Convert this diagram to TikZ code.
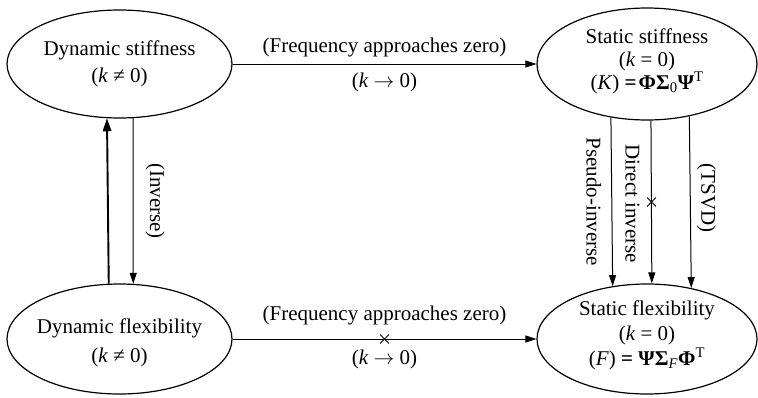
\documentclass[tikz,border=0pt]{standalone}
\usepackage{fontspec}
\setmainfont{Liberation Serif}
\usetikzlibrary{shapes.geometric,shapes.misc,arrows.meta}

\begin{document}
\begin{tikzpicture}[x=1pt,y=-1pt,
  state/.style={draw, ellipse, line width=1.2pt, inner sep=0pt},
  body/.style={align=center, font=\fontsize{21}{#1}\selectfont},
  tag/.style={font=\fontsize{21}{25}\selectfont, inner sep=0pt},
  link/.style={line width=1pt, -{Triangle[length=11pt,width=7pt]}},
  boldlink/.style={line width=1.9pt, -{Triangle[length=13pt,width=8.5pt]}},
  xmark/.style={cross out, draw, line width=0.9pt, minimum size=8pt, inner sep=0pt},
]
\useasboundingbox (0,0) rectangle (758,397);

% the four states
\node[state, minimum width=225pt, minimum height=108pt,
  label={[body=27]center:{Dynamic stiffness\\(\textit{k} ≠ 0)}}] (ds) at (119.5,64) {};
\node[state, minimum width=225pt, minimum height=110pt,
  label={[body=29, yshift=-3.5pt]center:{Dynamic flexibility\\(\textit{k} ≠ 0)}}] (df) at (119.5,339) {};
\node[state, minimum width=220pt, minimum height=112pt,
  label={[body=23, yshift=3pt]center:{Static stiffness\\(\textit{k} = 0)\\(\textit{K})~\textbf{=}\kern2pt\textbf{ΦΣ}\textsubscript{0}\textbf{Ψ}\textsuperscript{T}}}] (ss) at (647,64) {};
\node[state, minimum width=220pt, minimum height=110pt,
  label={[body=25, yshift=4pt]center:{Static flexibility\\(\textit{k} = 0)\\(\textit{F})~\textbf{=}~\textbf{ΨΣ}\textsubscript{\textit{F}}\textbf{Φ}\textsuperscript{T}}}] (sf) at (647,339) {};

% frequency limits
\draw[link] (ds.east) --
  node[tag, yshift=16.5pt]{(Frequency approaches zero)}
  node[tag, yshift=-18pt]{(\textit{k} $\rightarrow$ 0)} (ss.west);
\draw[link] (df.east) --
  node[xmark]{}
  node[tag, yshift=23.5pt]{(Frequency approaches zero)}
  node[tag, yshift=-20.5pt]{(\textit{k} $\rightarrow$ 0)} (sf.west);

% dynamic inversion
\draw[boldlink] (df.101.87) -- (ds.257.92);
\draw[link] (ds.284.13) --
  node[tag, xshift=22pt, rotate=-90]{(Inverse)} (df.76.11);

% static inversion routes
\draw[link] (ss.236.6) --
  node[tag, xshift=-18pt, rotate=-90]{Pseudo-inverse} (sf.123.87);
\draw[link] (ss.274.09) --
  node[xmark]{}
  node[tag, xshift=-19pt, yshift=-2pt, rotate=-90]{Direct inverse} (sf.85.84);
\draw[link] (ss.309.84) --
  node[tag, xshift=16pt, yshift=4pt, rotate=-90]{(TSVD)} (sf.49.65);
\end{tikzpicture}
\end{document}
